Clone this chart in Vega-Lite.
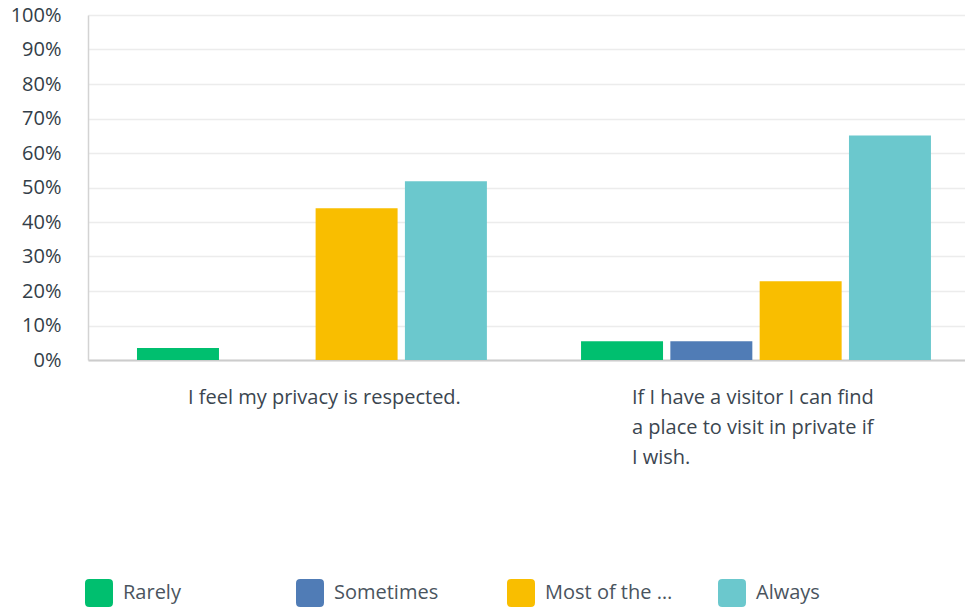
{
  "$schema": "https://vega.github.io/schema/vega-lite/v6.json",
  "width": 877,
  "height": 345,
  "autosize": {"type": "none"},
  "padding": {"left": 88, "top": 15, "right": 0, "bottom": 247},
  "background": "white",
  "config": {
    "view": {"stroke": null},
    "font": "Open Sans"
  },
  "data": {
    "values": [
      {"question": "I feel my privacy is respected.", "answer": "Rarely", "pct": 0.0345},
      {"question": "I feel my privacy is respected.", "answer": "Sometimes", "pct": 0},
      {"question": "I feel my privacy is respected.", "answer": "Most of the time", "pct": 0.44},
      {"question": "I feel my privacy is respected.", "answer": "Always", "pct": 0.518},
      {"question": "If I have a visitor I can find a place to visit in private if I wish.", "answer": "Rarely", "pct": 0.054},
      {"question": "If I have a visitor I can find a place to visit in private if I wish.", "answer": "Sometimes", "pct": 0.054},
      {"question": "If I have a visitor I can find a place to visit in private if I wish.", "answer": "Most of the time", "pct": 0.228},
      {"question": "If I have a visitor I can find a place to visit in private if I wish.", "answer": "Always", "pct": 0.651}
    ]
  },
  "mark": {"type": "bar"},
  "encoding": {
    "x": {
      "field": "question",
      "type": "nominal",
      "sort": null,
      "scale": {"paddingInner": 0.212, "paddingOuter": 0.0935, "align": 0.59},
      "axis": {
        "title": null,
        "ticks": false,
        "labelAngle": 0,
        "labelAlign": "left",
        "labelBaseline": "top",
        "labelOffset": -124,
        "labelPadding": 27,
        "labelFontSize": 20,
        "labelColor": "#3b4650",
        "labelLineHeight": 30,
        "labelLimit": 400,
        "labelExpr": "datum.label == 'If I have a visitor I can find a place to visit in private if I wish.' ? ['If I have a visitor I can find', 'a place to visit in private if', 'I wish.'] : datum.label",
        "domainColor": "#cccccc",
        "domainWidth": 2,
        "grid": false
      }
    },
    "xOffset": {
      "field": "answer",
      "type": "nominal",
      "scale": {"domain": ["Rarely", "Sometimes", "Most of the time", "Always"], "paddingInner": 0.082, "paddingOuter": 0}
    },
    "y": {
      "field": "pct",
      "type": "quantitative",
      "scale": {"domain": [0, 1], "nice": false},
      "axis": {
        "title": null,
        "values": [0, 0.1, 0.2, 0.3, 0.4, 0.5, 0.6, 0.7, 0.8, 0.9, 1],
        "format": ".0%",
        "ticks": false,
        "labelPadding": 27,
        "labelFontSize": 20,
        "labelColor": "#333e48",
        "domainColor": "#d3d3d3",
        "domainWidth": 1.5,
        "gridColor": "#ececec",
        "gridWidth": 1.5
      }
    },
    "color": {
      "field": "answer",
      "type": "nominal",
      "scale": {
        "domain": ["Rarely", "Sometimes", "Most of the time", "Always"],
        "range": ["#00bf6f", "#507cb6", "#f9be00", "#6bc8cd"]
      },
      "legend": {
        "title": null,
        "orient": "none",
        "legendX": -3,
        "legendY": 564,
        "direction": "horizontal",
        "columns": 4,
        "gridAlign": "all",
        "columnPadding": 45,
        "symbolType": "M -0.7 -1 L 0.7 -1 Q 1 -1 1 -0.7 L 1 0.7 Q 1 1 0.7 1 L -0.7 1 Q -1 1 -1 0.7 L -1 -0.7 Q -1 -1 -0.7 -1 Z",
        "symbolSize": 784,
        "symbolStrokeWidth": 0,
        "symbolOpacity": 1,
        "labelFontSize": 20,
        "labelColor": "#4a545e",
        "labelOffset": 10,
        "labelLimit": 132
      }
    }
  }
}
